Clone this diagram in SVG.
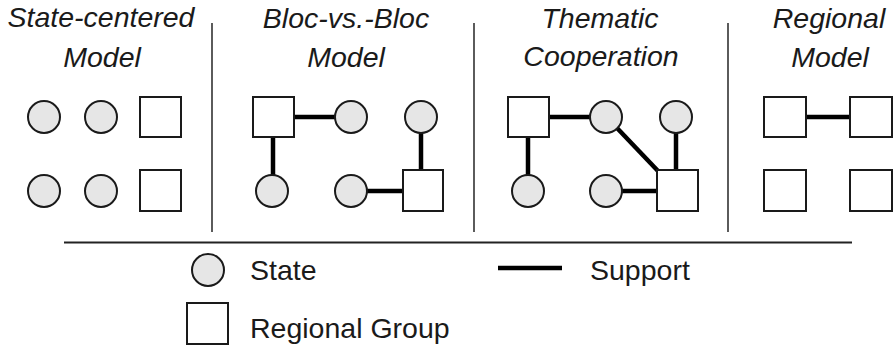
<svg xmlns="http://www.w3.org/2000/svg" width="894" height="349" viewBox="0 0 894 349">
<style>
.st{fill:#e6e6e6;stroke:#1a1a1a;stroke-width:2}
.rg{fill:#fff;stroke:#1a1a1a;stroke-width:2}
.sp{stroke:#000;stroke-width:4.5;fill:none}
.dv{stroke:#333;stroke-width:1.6}
.tt{font-family:"Liberation Sans",Arial,sans-serif;font-style:italic;font-size:28.5px;fill:#1a1a1a;text-anchor:middle}
.lg{font-family:"Liberation Sans",Arial,sans-serif;font-size:28.5px;fill:#1a1a1a}
</style>
<rect width="894" height="349" fill="#fff"/>
<g id="titles">
<text class="tt" x="101" y="27">State-centered</text>
<text class="tt" x="102" y="67">Model</text>
<text class="tt" x="346" y="28">Bloc-vs.-Bloc</text>
<text class="tt" x="346" y="67">Model</text>
<text class="tt" x="600" y="28">Thematic</text>
<text class="tt" x="601" y="66">Cooperation</text>
<text class="tt" x="829" y="28">Regional</text>
<text class="tt" x="830" y="67">Model</text>
</g>
<g id="dividers">
<line class="dv" x1="212" y1="23" x2="212" y2="232"/>
<line class="dv" x1="474" y1="23" x2="474" y2="232"/>
<line class="dv" x1="728" y1="23" x2="728" y2="232"/>
<line x1="64" y1="242.5" x2="852" y2="242.5" stroke="#222" stroke-width="2.2"/>
</g>
<g id="connectors">
<line class="sp" x1="294" y1="117" x2="335" y2="117"/>
<line class="sp" x1="273" y1="137" x2="273" y2="175"/>
<line class="sp" x1="421" y1="133" x2="421" y2="170"/>
<line class="sp" x1="367" y1="191" x2="403" y2="191"/>
<line class="sp" x1="549" y1="117" x2="590" y2="117"/>
<line class="sp" x1="528" y1="137" x2="528" y2="175"/>
<line class="sp" x1="617" y1="128" x2="658" y2="171"/>
<line class="sp" x1="676" y1="133" x2="676" y2="170"/>
<line class="sp" x1="622" y1="191" x2="657" y2="191"/>
<line class="sp" x1="806" y1="117" x2="850" y2="117"/>
</g>
<g id="p1-s1"><circle class="st" cx="44" cy="117" r="16"/></g>
<g id="p1-s2"><circle class="st" cx="101" cy="117" r="16"/></g>
<g id="p1-s3"><circle class="st" cx="44" cy="191" r="16"/></g>
<g id="p1-s4"><circle class="st" cx="101" cy="191" r="16"/></g>
<g id="p1-r1"><rect class="rg" x="140" y="97" width="41" height="40"/></g>
<g id="p1-r2"><rect class="rg" x="140" y="170" width="41" height="41"/></g>
<g id="p2-r1"><rect class="rg" x="253" y="97" width="41" height="40"/></g>
<g id="p2-s1"><circle class="st" cx="351" cy="117" r="16"/></g>
<g id="p2-s2"><circle class="st" cx="421" cy="117" r="16"/></g>
<g id="p2-s3"><circle class="st" cx="272" cy="191" r="16"/></g>
<g id="p2-s4"><circle class="st" cx="351" cy="191" r="16"/></g>
<g id="p2-r2"><rect class="rg" x="403" y="170" width="40" height="41"/></g>
<g id="p3-r1"><rect class="rg" x="508" y="97" width="41" height="40"/></g>
<g id="p3-s1"><circle class="st" cx="606" cy="117" r="16"/></g>
<g id="p3-s2"><circle class="st" cx="676" cy="117" r="16"/></g>
<g id="p3-s3"><circle class="st" cx="528" cy="191" r="16"/></g>
<g id="p3-s4"><circle class="st" cx="606" cy="191" r="16"/></g>
<g id="p3-r2"><rect class="rg" x="657" y="170" width="41" height="41"/></g>
<g id="p4-r1"><rect class="rg" x="764" y="97" width="42" height="40"/></g>
<g id="p4-r2"><rect class="rg" x="850" y="97" width="42" height="40"/></g>
<g id="p4-r3"><rect class="rg" x="764" y="170" width="42" height="41"/></g>
<g id="p4-r4"><rect class="rg" x="850" y="170" width="42" height="41"/></g>
<g id="legend">
<circle class="st" cx="208" cy="270" r="16"/>
<text class="lg" x="250" y="280">State</text>
<line class="sp" x1="498" y1="268" x2="562" y2="268"/>
<text class="lg" x="590" y="280">Support</text>
<rect class="rg" x="187" y="303" width="41" height="41"/>
<text class="lg" x="250" y="338">Regional Group</text>
</g>
</svg>
